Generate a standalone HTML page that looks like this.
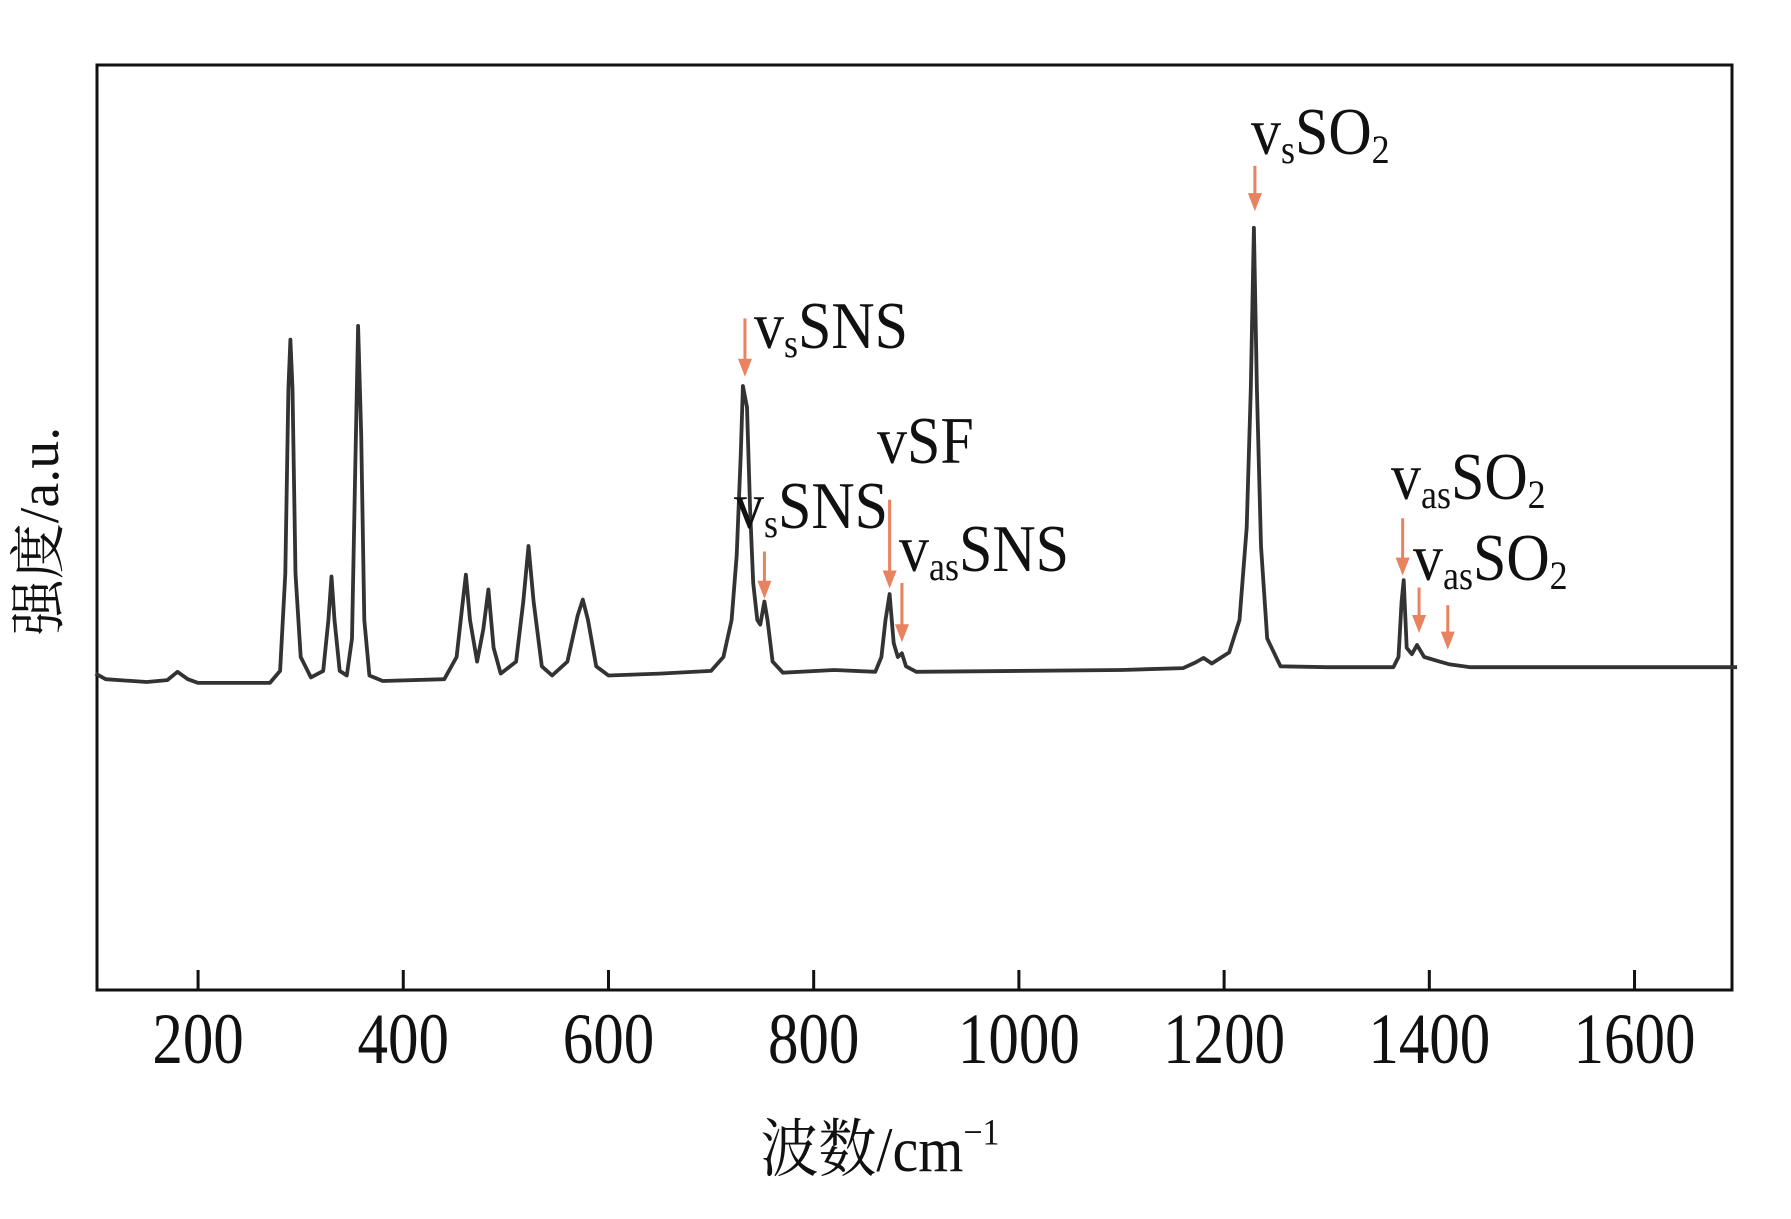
<!DOCTYPE html>
<html><head><meta charset="utf-8">
<style>
html,body{margin:0;padding:0;background:#fff;}
svg{display:block;}
text{font-family:"Liberation Serif","Noto Serif CJK SC",serif;fill:#111;}
</style></head>
<body>
<svg id="chart" width="1791" height="1219" viewBox="0 0 1791 1219">
  <rect x="97" y="65" width="1635" height="925" fill="none" stroke="#111" stroke-width="3"/>
  <g id="ticks"></g>
  <path id="spectrum" fill="none" stroke="#333" stroke-width="3.8" stroke-linejoin="round"/>
  <g id="arrows"></g>
  <g id="labels" font-size="60">
    <text x="1251" y="154" transform="translate(0,154) scale(1,1.12) translate(0,-154)">v<tspan font-size="36" dy="8">s</tspan><tspan dy="-8">SO</tspan><tspan font-size="36" dy="8">2</tspan></text>
    <text x="754" y="348" transform="translate(0,348) scale(1,1.12) translate(0,-348)">v<tspan font-size="36" dy="8">s</tspan><tspan dy="-8">SNS</tspan></text>
    <text x="877" y="463" transform="translate(0,463) scale(1,1.12) translate(0,-463)">vSF</text>
    <text x="734" y="528" transform="translate(0,528) scale(1,1.12) translate(0,-528)">v<tspan font-size="36" dy="8">s</tspan><tspan dy="-8">SNS</tspan></text>
    <text x="899" y="571" transform="translate(0,571) scale(1,1.12) translate(0,-571)">v<tspan font-size="36" dy="8">as</tspan><tspan dy="-8">SNS</tspan></text>
    <text x="1391" y="499" transform="translate(0,499) scale(1,1.12) translate(0,-499)">v<tspan font-size="36" dy="8">as</tspan><tspan dy="-8">SO</tspan><tspan font-size="36" dy="8">2</tspan></text>
    <text x="1413" y="580" transform="translate(0,580) scale(1,1.12) translate(0,-580)">v<tspan font-size="36" dy="8">as</tspan><tspan dy="-8">SO</tspan><tspan font-size="36" dy="8">2</tspan></text>
  </g>
  <text x="880" y="1171" text-anchor="middle" font-size="58" transform="translate(0,1171) scale(1,1.1) translate(0,-1171)">波数/cm<tspan font-size="34" dy="-24">−1</tspan></text>
  <text x="0" y="0" text-anchor="middle" font-size="56" transform="translate(58,531) rotate(-90)">强度/a.u.</text>
</svg>
<script>
const tickValues = [200,400,600,800,1000,1200,1400,1600];
const tickLabels = ["200","400","600","800","1000","1200","1400","1600"];
const waveNumbers = [100,110,150,170,180,190,200,270,280,285,288,290,292,295,300,310,322,327,330,333,338,345,350,353,356,359,362,367,380,440,452,458,461,465,472,478,483,488,495,510,517,522,527,535,545,560,570,575,580,588,600,650,700,712,720,725,729,731,735,738,741,745,748,752,755,760,770,820,860,866,870,874,878,882,886,890,900,1100,1160,1172,1180,1188,1205,1215,1222,1226,1229,1232,1236,1242,1255,1300,1365,1370,1373,1375,1378,1383,1388,1395,1410,1420,1440,1700];
const intensities = [34.2,33.6,33.3,33.5,34.4,33.6,33.2,33.2,34.5,45,65,70.3,65,45,36,33.8,34.5,40,44.7,40,34.5,34,38,55,71.8,60,40,34,33.4,33.6,36,42,44.9,40,35.5,39,43.3,37,34.2,35.5,42,48,42,35,34,35.5,40.5,42.2,40,35,34,34.2,34.5,36,40,47,58,65.3,63,52,44,40,39.5,42,40,35.5,34.3,34.6,34.4,36,40,42.8,37.5,36,36.4,35,34.4,34.6,34.8,35.4,35.9,35.3,36.5,40,50,65,82.4,65,48,38,35,34.9,34.9,36,42,44.3,37,36.3,37.3,36,35.5,35.2,34.9,34.9];
const arrowWaves = [733,752,874,886,1230,1374,1390,1418];
const arrowTops = [72.6,47.4,53,44,89.1,51,43.5,41.6];
const arrowBottoms = [66.3,42.3,43.4,37.6,84.2,44.8,38.6,36.8];

const X0=97,X1=1732,Y0=65,Y1=990;
const xMin=101.5,xMax=1695,yMin=0,yMax=100;
const xs=v=>X0+(v-xMin)/(xMax-xMin)*(X1-X0);
const ys=v=>Y1-(v-yMin)/(yMax-yMin)*(Y1-Y0);
const NS="http://www.w3.org/2000/svg";

const tg=document.getElementById('ticks');
tickValues.forEach((t,i)=>{
  const l=document.createElementNS(NS,'line');
  l.setAttribute('x1',xs(t));l.setAttribute('x2',xs(t));
  l.setAttribute('y1',Y1);l.setAttribute('y2',Y1-20);
  l.setAttribute('stroke','#111');l.setAttribute('stroke-width','3');
  
  
  tg.appendChild(l);
  const tx=document.createElementNS(NS,'text');
  tx.setAttribute('x',xs(t));tx.setAttribute('y',1063);
  tx.setAttribute('text-anchor','middle');tx.setAttribute('font-size','61');
  tx.setAttribute('transform','translate(0,1063) scale(1,1.18) translate(0,-1063)');
  tx.textContent=tickLabels[i];
  
  
  tg.appendChild(tx);
});

let d='';
waveNumbers.forEach((w,i)=>{d+=(i?'L':'M')+xs(w).toFixed(1)+','+ys(intensities[i]).toFixed(1);});
document.getElementById('spectrum').setAttribute('d',d);

const ag=document.getElementById('arrows');
arrowWaves.forEach((w,i)=>{
  const x=xs(w),yt=ys(arrowTops[i]),yb=ys(arrowBottoms[i]);
  const g=document.createElementNS(NS,'g');
  
  
  const l=document.createElementNS(NS,'line');
  l.setAttribute('x1',x);l.setAttribute('x2',x);l.setAttribute('y1',yt);l.setAttribute('y2',yb-14);
  l.setAttribute('stroke','#e8825f');l.setAttribute('stroke-width','3');
  g.appendChild(l);
  const p=document.createElementNS(NS,'polygon');
  p.setAttribute('points',`${x-7},${yb-18} ${x+7},${yb-18} ${x},${yb}`);
  p.setAttribute('fill','#e8825f');
  g.appendChild(p);
  ag.appendChild(g);
});
</script>
</body></html>
